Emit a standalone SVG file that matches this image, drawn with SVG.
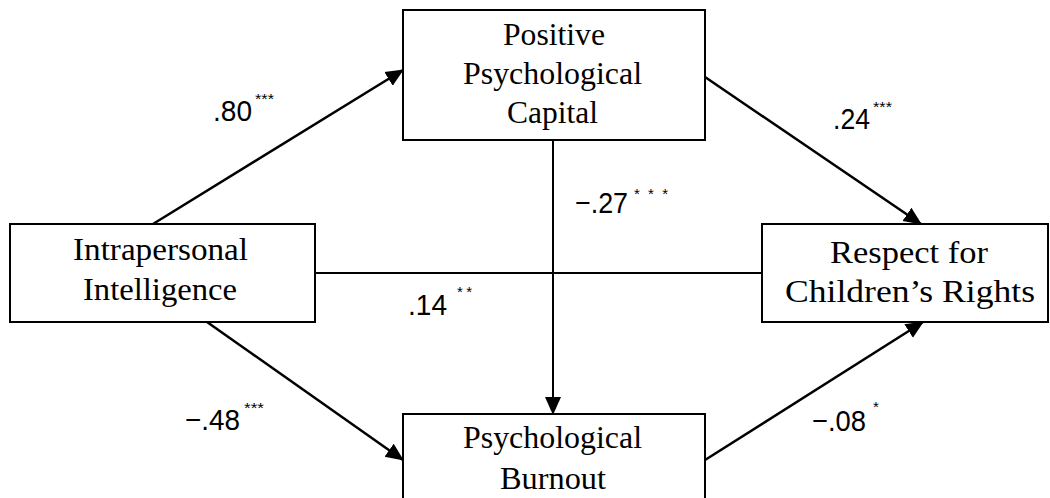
<svg xmlns="http://www.w3.org/2000/svg" width="1050" height="498" viewBox="0 0 1050 498">
<style>
.box{fill:#fff;stroke:#000;stroke-width:2}
.t{font-family:"Liberation Serif","DejaVu Serif",serif;font-size:31px;fill:#000}
.l{font-family:"Liberation Sans","DejaVu Sans",sans-serif;font-size:30px;fill:#000}
.s{font-family:"Liberation Sans","DejaVu Sans",sans-serif;font-size:15px;fill:#000}
.c{stroke:#000;stroke-width:2.5;fill:none}
.c2{stroke:#000;stroke-width:2;fill:none}
</style>
<defs>
<marker id="ahb" markerWidth="18" markerHeight="18" refX="17" refY="9" orient="auto" markerUnits="userSpaceOnUse" viewBox="0 0 18 18">
<path d="M0,1 L18,9 L0,17 z" fill="#000"/>
</marker>
</defs>
<rect width="1050" height="498" fill="#fff"/>
<g id="connectors">
<line class="c" x1="153" y1="224" x2="403" y2="70" marker-end="url(#ahb)"/>
<line class="c" x1="705" y1="77" x2="921" y2="224" marker-end="url(#ahb)"/>
<line class="c" x1="207" y1="322" x2="403" y2="460" marker-end="url(#ahb)"/>
<line class="c" x1="705" y1="460" x2="923" y2="322" marker-end="url(#ahb)"/>
<line class="c2" x1="553" y1="140" x2="553" y2="414" marker-end="url(#ahb)"/>
<line class="c2" x1="315" y1="273" x2="762" y2="273"/>
</g>
<g id="labels">
<text class="l" x="213" y="121" textLength="39" lengthAdjust="spacingAndGlyphs">.80</text>
<text class="s" x="255" y="104" textLength="19" lengthAdjust="spacingAndGlyphs">***</text>
<text class="l" x="833" y="129" textLength="37" lengthAdjust="spacingAndGlyphs">.24</text>
<text class="s" x="873" y="112" textLength="19" lengthAdjust="spacingAndGlyphs">***</text>
<text class="l" x="575" y="213" textLength="53" lengthAdjust="spacingAndGlyphs">−.27</text>
<text class="s" x="634" y="199" textLength="34" lengthAdjust="spacing">***</text>
<text class="l" x="408" y="315" textLength="39" lengthAdjust="spacingAndGlyphs">.14</text>
<text class="s" x="457" y="297" textLength="15" lengthAdjust="spacing">**</text>
<text class="l" x="185" y="430" textLength="55" lengthAdjust="spacingAndGlyphs">−.48</text>
<text class="s" x="244" y="413" textLength="20" lengthAdjust="spacingAndGlyphs">***</text>
<text class="l" x="812" y="431" textLength="54" lengthAdjust="spacingAndGlyphs">−.08</text>
<text class="s" x="873" y="412">*</text>
</g>
<g id="ppc">
<rect class="box" x="403" y="10" width="302" height="130"/>
<text class="t" x="503" y="45" textLength="102" lengthAdjust="spacingAndGlyphs">Positive</text>
<text class="t" x="463" y="84" textLength="179" lengthAdjust="spacingAndGlyphs">Psychological</text>
<text class="t" x="507" y="123" textLength="91" lengthAdjust="spacingAndGlyphs">Capital</text>
</g>
<g id="ii">
<rect class="box" x="10" y="224" width="305" height="98"/>
<text class="t" x="73" y="260" textLength="175" lengthAdjust="spacingAndGlyphs">Intrapersonal</text>
<text class="t" x="83" y="300" textLength="154" lengthAdjust="spacingAndGlyphs">Intelligence</text>
</g>
<g id="rcr">
<rect class="box" x="762" y="224" width="286" height="98"/>
<text class="t" x="830" y="263" textLength="158" lengthAdjust="spacingAndGlyphs">Respect for</text>
<text class="t" x="785" y="302" textLength="250" lengthAdjust="spacingAndGlyphs">Children’s Rights</text>
</g>
<g id="pb">
<rect class="box" x="403" y="414" width="302" height="100"/>
<text class="t" x="463" y="448" textLength="179" lengthAdjust="spacingAndGlyphs">Psychological</text>
<text class="t" x="500" y="489" textLength="106" lengthAdjust="spacingAndGlyphs">Burnout</text>
</g>
</svg>
